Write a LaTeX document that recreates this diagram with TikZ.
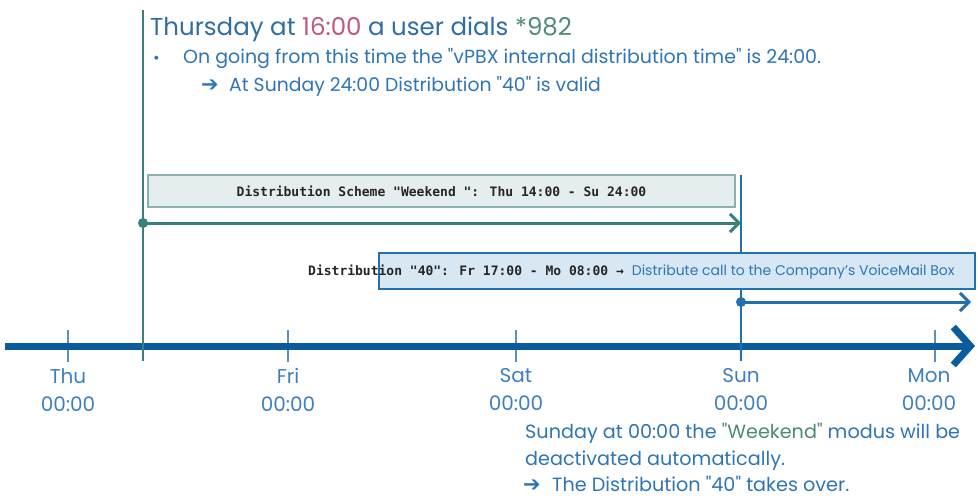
\documentclass[tikz,border=0pt]{standalone}
\usepackage{fontspec}
\setmainfont{Poppins}
\newfontfamily\pop{Poppins}
\newfontfamily\monof{DejaVu Sans Mono}
\newfontfamily\symf{DejaVu Sans}
\usetikzlibrary{arrows.meta}
\definecolor{titleblue}{HTML}{2F6DA3}
\definecolor{txtblue}{HTML}{2E75B6}
\definecolor{redish}{HTML}{C2577A}
\definecolor{greenish}{HTML}{4B8B78}
\definecolor{tealline}{HTML}{3A7F7E}
\definecolor{axisblue}{HTML}{0B5C9C}
\definecolor{wkfill}{HTML}{E5EEEE}
\definecolor{wkdraw}{HTML}{8CB0B0}
\definecolor{bxfill}{HTML}{D8E7F4}
\definecolor{bxdraw}{HTML}{2470AE}
\definecolor{tickblue}{HTML}{5A8FC0}
\definecolor{labelblue}{HTML}{3E7FBF}
\definecolor{monotext}{HTML}{262626}
\begin{document}
\pop
\begin{tikzpicture}[x=1pt,y=-1pt,
  daylbl/.style={font=\fontsize{20}{28}\selectfont, text=labelblue, align=center, inner sep=0pt, anchor=north},
  tickln/.style={draw=tickblue, line width=1.3pt},
  txt/.style={inner sep=0pt, anchor=base west, text=txtblue},
  arrowsym/.style={inner sep=0pt, anchor=base west, text=txtblue, font=\fontsize{21}{20}\selectfont\symf\bfseries},
  boxwk/.style={draw=wkdraw, fill=wkfill, line width=1.8pt, inner sep=0pt},
  boxbl/.style={draw=bxdraw, fill=bxfill, line width=1.8pt, inner sep=0pt},
  tealarrow/.style={draw=tealline, line width=3pt, -{Straight Barb[length=9pt,width=18pt]}},
  bluearrow/.style={draw=bxdraw, line width=3pt, -{Straight Barb[length=9pt,width=18pt]}},
  axisln/.style={draw=axisblue, line width=7pt, -{Straight Barb[length=17pt,width=38pt]}},
  dot/.style={circle, inner sep=0pt, minimum size=10pt},
  monolbl/.style={font=\monof\bfseries\fontsize{13}{14}\selectfont, text=monotext},
]
\useasboundingbox (0,0) rectangle (978,499);

% axis
\coordinate (axL) at (5,346);
\coordinate (axR) at (975,346);

% ticks
\foreach \n/\x in {thu/68,fri/288,sat/516,sun/741,mon/935}{
  \coordinate (\n T) at (\x,330);
  \coordinate (\n B) at (\x,362);
}
\draw[tickln] (thuT) -- (thuB);
\draw[tickln] (friT) -- (friB);
\draw[tickln] (satT) -- (satB);
\draw[tickln] (monT) -- (monB);

\draw[axisln] (axL) -- (axR);

% vertical lines
\coordinate (tealTop) at (143,10);
\coordinate (tealBot) at (143,361);
\draw[draw=tealline, line width=2.6pt] (tealTop) -- (tealBot);
\coordinate (sunTop) at (741,175);
\coordinate (sunBot) at (741,361);
\draw[draw=bxdraw, line width=2.6pt] (sunTop) -- (sunBot);

% weekend box
\node[boxwk, minimum width=587pt, minimum height=32pt] (wk) at (441.5,191) {};
\node[monolbl, inner sep=0pt] (wktxt) at (441.5,191) {Distribution Scheme "Weekend ": Thu 14:00 - Su 24:00};

% teal arrow
\node[dot, fill=tealline] (tdot) at (143,223) {};
\coordinate (tend) at (741,223);
\draw[tealarrow] (tdot.center) -- (tend);

% blue box
\node[boxbl, minimum width=596pt, minimum height=36pt] (bx) at (677,271) {};
\node[inner sep=0pt, anchor=west] (bxtxt) at (308,272) {{\monof\bfseries\fontsize{13}{14}\selectfont\color{monotext}Distribution "40": Fr 17:00 - Mo 08:00 →}\hspace{8pt}{\color{txtblue}\fontsize{14}{16}\selectfont Distribute call to the Company’s VoiceMail Box}};

% blue arrow
\node[dot, fill=bxdraw] (bdot) at (741,302) {};
\coordinate (bend) at (971,302);
\draw[bluearrow] (bdot.center) -- (bend);

% day labels
\node[daylbl] (lthu) at (68,368) {Thu\\00:00};
\node[daylbl] (lfri) at (288,368) {Fri\\00:00};
\node[daylbl] (lsat) at (516,368) {Sat\\00:00};
\node[daylbl] (lsun) at (741,368) {Sun\\00:00};
\node[daylbl] (lmon) at (929,368) {Mon\\00:00};

% title
\node[txt, text=titleblue, font=\fontsize{24.5}{28}\selectfont] (title) at (150,35) {Thursday at {\color{redish}16:00} a user dials {\color{greenish}*982}};
\node[txt, text=txtblue, font=\fontsize{16}{20}\selectfont] (bul) at (153,63) {•};
\node[txt, font=\fontsize{19}{20}\selectfont] (l2) at (183,63) {On going from this time the "vPBX internal distribution time" is 24:00.};
\node[arrowsym] (ar1) at (201,91) {➔};
\node[txt, font=\fontsize{18.8}{20}\selectfont] (l3) at (229,91) {At Sunday 24:00 Distribution "40" is valid};

% bottom
\node[txt, font=\fontsize{19.2}{20}\selectfont] (b1) at (525,438) {Sunday at 00:00 the {\color{greenish}"Weekend"} modus will be};
\node[txt, font=\fontsize{19.2}{20}\selectfont] (b2) at (525,465) {deactivated automatically.};
\node[arrowsym] (ar2) at (523,491) {➔};
\node[txt, font=\fontsize{19.2}{20}\selectfont] (b3) at (552,491) {The Distribution "40" takes over.};
\end{tikzpicture}
\end{document}
